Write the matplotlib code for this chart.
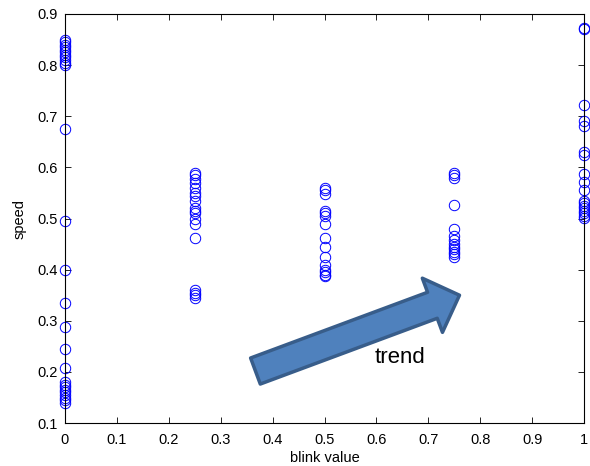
import numpy as np
import matplotlib.pyplot as plt
from matplotlib.patches import FancyArrowPatch

plt.rcParams['font.family'] = ['Liberation Sans', 'DejaVu Sans']

# speed readings per blink value
blink_levels = [0.0, 0.25, 0.5, 0.75, 1.0]
speed_0 = [0.85, 0.845, 0.84, 0.835, 0.83, 0.825, 0.82, 0.815, 0.81, 0.805, 0.80,
           0.675, 0.495, 0.40, 0.335, 0.287, 0.245, 0.207,
           0.18, 0.175, 0.17, 0.165, 0.16, 0.155, 0.15, 0.145, 0.14]
speed_25 = [0.59, 0.585, 0.578, 0.57, 0.56, 0.55, 0.545, 0.535, 0.52, 0.515,
            0.51, 0.50, 0.49, 0.462, 0.36, 0.355, 0.35, 0.345]
speed_50 = [0.56, 0.555, 0.548, 0.515, 0.51, 0.505, 0.49, 0.462, 0.445, 0.425,
            0.41, 0.40, 0.395, 0.39, 0.388]
speed_75 = [0.59, 0.585, 0.58, 0.527, 0.48, 0.465, 0.458, 0.45, 0.445, 0.44,
            0.435, 0.43, 0.425]
speed_100 = [0.872, 0.87, 0.722, 0.69, 0.68, 0.63, 0.625, 0.588, 0.572, 0.555,
             0.535, 0.53, 0.525, 0.52, 0.515, 0.51, 0.505, 0.502]
groups = [speed_0, speed_25, speed_50, speed_75, speed_100]

fig = plt.figure(figsize=(5.9, 4.66), dpi=100)
ax = fig.add_axes([0.110, 0.092, 0.880, 0.878])

for b, s in zip(blink_levels, groups):
    ax.plot([b] * len(s), s, 'o', mfc='none', mec='blue', ms=7.5, mew=0.7, clip_on=False)

ax.set_xlim(0, 1)
ax.set_ylim(0.1, 0.9)
ax.set_xticks(np.arange(0, 1.01, 0.1))
ax.set_xticklabels(['0', '0.1', '0.2', '0.3', '0.4', '0.5', '0.6', '0.7', '0.8', '0.9', '1'])
ax.set_yticks(np.arange(0.1, 0.91, 0.1))
ax.set_yticklabels(['0.1', '0.2', '0.3', '0.4', '0.5', '0.6', '0.7', '0.8', '0.9'])
ax.tick_params(direction='in', top=True, right=True, labelsize=10.5, length=4, width=0.6)
ax.tick_params(axis='x', pad=7)
ax.tick_params(axis='y', pad=5)
for sp in ax.spines.values():
    sp.set_linewidth(0.8)
ax.set_xlabel('blink value', fontsize=10.5, labelpad=3)
ax.set_ylabel('speed', fontsize=10.5, labelpad=8)

# trend arrow
arrow = FancyArrowPatch((0.362, 0.2), (0.765, 0.352),
                        arrowstyle='simple,head_width=2.6,head_length=1.3,tail_width=1.25',
                        mutation_scale=16, fc='#4F81BD', ec='#385D8A', lw=2.5)
ax.add_patch(arrow)
ax.text(0.645, 0.228, 'trend', fontsize=16, ha='center', va='center')

fig.savefig('out.png', dpi=100)
